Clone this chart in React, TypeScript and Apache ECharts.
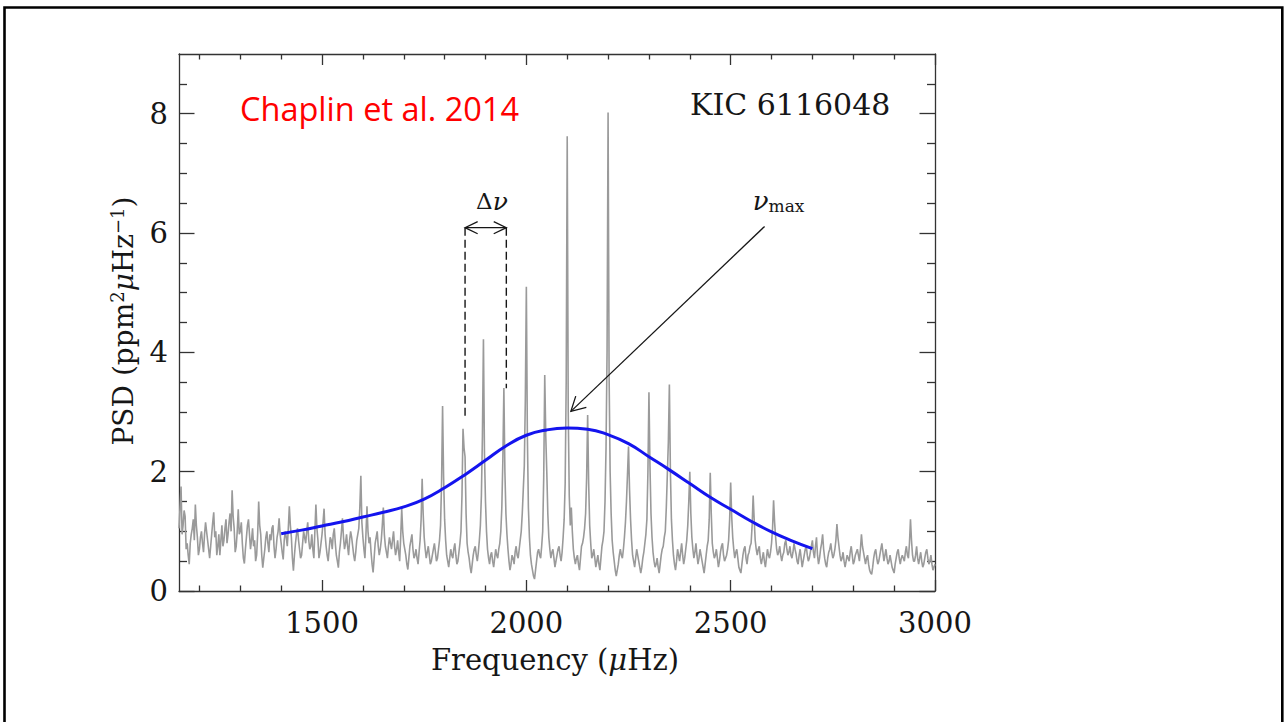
import React, { useEffect, useRef } from "react";
import * as echarts from "echarts";

// ---------- data ----------
const FREQ_START = 1150; // μHz, first sample of the spectrum
const FREQ_STEP = 2.5; // μHz, sampling step of the spectrum

// PSD (ppm^2 μHz^-1), one row per 100 μHz starting at 1150
const psdValues: number[] = [
  1.05, 1.40, 1.75, 0.95, 1.10, 1.35, 1.25, 0.70, 0.80, 0.60, 0.45, 0.80, 0.95, 1.05, 1.20, 0.85, 1.45, 1.10, 0.90, 0.60,
  0.70, 0.90, 1.00, 0.80, 0.65, 0.95, 1.15, 1.00, 0.85, 0.70, 0.55, 0.75, 0.95, 1.15, 1.32, 0.90, 1.00, 0.60, 0.75, 0.95,
  0.60, 0.85, 1.10, 0.75, 0.85, 1.05, 1.20, 0.80, 0.95, 1.15, 1.30, 1.00, 1.69, 1.25, 1.05, 0.65, 0.75, 1.00, 1.37, 0.95,
  1.00, 1.15, 0.80, 0.55, 0.46, 0.70, 0.90, 1.10, 1.20, 0.95, 0.70, 0.85, 1.05, 0.75, 0.85, 0.50, 0.60, 0.95, 1.50, 1.10,
  0.95, 0.60, 0.39, 0.55, 0.70, 0.90, 1.00, 0.80, 0.65, 0.95, 0.85, 1.05, 1.10, 0.75, 0.55, 0.70, 0.90, 1.00, 1.22, 0.95,
  0.80, 0.65, 0.53, 0.85, 1.00, 0.90, 0.75, 1.05, 1.42, 1.10, 0.90, 0.55, 0.34, 0.60, 0.80, 0.95, 1.05, 0.85, 0.70, 0.55,
  0.60, 0.80, 1.00, 0.90, 0.80, 1.00, 1.15, 0.85, 0.70, 0.75, 0.95, 0.70, 0.55, 1.00, 1.45, 1.05, 0.85, 0.55, 0.65, 0.80,
  0.95, 1.15, 1.38, 0.95, 0.75, 0.60, 0.50, 0.70, 0.90, 0.85, 0.70, 0.95, 1.05, 0.80, 0.60, 0.50, 0.39, 0.65, 0.80, 1.00,
  1.22, 0.90, 0.70, 0.80, 0.95, 0.75, 0.60, 0.85, 1.00, 0.90, 0.75, 0.60, 0.50, 0.65, 0.85, 0.95, 1.05, 1.40, 1.93, 1.15,
  0.90, 0.70, 0.55, 0.95, 1.42, 1.00, 0.80, 0.90, 0.65, 0.45, 0.31, 0.55, 0.80, 0.90, 1.00, 0.75, 0.60, 0.70, 0.85, 1.10,
  1.40, 0.95, 0.75, 0.65, 0.55, 0.75, 0.90, 0.80, 0.70, 0.85, 1.00, 0.75, 0.60, 0.70, 0.85, 0.65, 0.50, 0.90, 1.38, 1.00,
  0.80, 0.70, 0.60, 0.45, 0.36, 0.55, 0.75, 0.85, 0.95, 0.70, 0.55, 0.60, 0.70, 0.55, 0.45, 0.65, 0.85, 1.20, 1.88, 1.30,
  0.90, 0.70, 0.55, 0.65, 0.75, 0.60, 0.45, 0.50, 0.60, 0.70, 0.80, 0.65, 0.50, 0.55, 0.70, 0.85, 1.10, 1.80, 3.10, 1.90,
  1.20, 0.85, 0.60, 0.50, 0.40, 0.55, 0.70, 0.60, 0.55, 0.70, 0.80, 0.60, 0.45, 0.50, 0.65, 0.80, 1.00, 1.60, 2.72, 2.40,
  2.25, 1.30, 0.80, 0.65, 0.55, 0.40, 0.30, 0.45, 0.60, 0.70, 0.75, 0.60, 0.50, 0.65, 0.85, 1.10, 1.60, 2.60, 4.22, 2.30,
  1.50, 1.00, 0.70, 0.55, 0.45, 0.60, 0.65, 0.50, 0.40, 0.55, 0.70, 0.60, 0.55, 0.70, 0.80, 1.00, 1.40, 2.20, 3.40, 2.00,
  1.30, 0.95, 0.70, 0.50, 0.35, 0.45, 0.60, 0.55, 0.45, 0.65, 0.75, 0.60, 0.55, 0.70, 0.85, 1.00, 1.30, 1.70, 2.10, 3.20,
  5.10, 2.60, 1.40, 0.90, 0.60, 0.45, 0.35, 0.25, 0.20, 0.35, 0.50, 0.65, 0.70, 0.60, 0.55, 0.75, 1.00, 1.90, 3.62, 2.60,
  2.00, 1.30, 0.90, 0.70, 0.55, 0.65, 0.70, 0.55, 0.40, 0.50, 0.60, 0.70, 0.75, 0.60, 0.50, 0.65, 0.90, 1.20, 1.80, 3.50,
  7.62, 3.00, 1.60, 1.10, 1.40, 1.00, 0.70, 0.55, 0.45, 0.55, 0.60, 0.45, 0.35, 0.55, 0.75, 0.80, 0.90, 1.05, 1.30, 1.90,
  2.95, 1.80, 1.10, 0.80, 0.55, 0.60, 0.70, 0.55, 0.40, 0.50, 0.60, 0.45, 0.35, 0.55, 0.75, 0.85, 1.00, 1.50, 2.40, 4.00,
  8.02, 3.60, 2.00, 1.30, 0.85, 0.65, 0.50, 0.35, 0.25, 0.35, 0.45, 0.60, 0.70, 0.60, 0.55, 0.70, 0.90, 1.15, 1.50, 1.95,
  2.42, 1.70, 1.20, 0.85, 0.60, 0.50, 0.40, 0.55, 0.70, 0.60, 0.50, 0.40, 0.30, 0.40, 0.55, 0.65, 0.80, 0.95, 1.20, 2.00,
  3.33, 2.10, 1.30, 0.90, 0.65, 0.50, 0.40, 0.45, 0.55, 0.40, 0.30, 0.45, 0.60, 0.70, 0.75, 0.90, 1.00, 1.40, 1.95, 2.50,
  3.46, 2.00, 1.20, 0.85, 0.60, 0.45, 0.35, 0.50, 0.70, 0.60, 0.50, 0.65, 0.80, 0.60, 0.45, 0.55, 0.70, 0.85, 1.10, 1.50,
  2.00, 1.30, 0.90, 0.70, 0.55, 0.65, 0.80, 0.60, 0.45, 0.55, 0.70, 0.60, 0.50, 0.40, 0.30, 0.45, 0.60, 0.75, 0.85, 1.20,
  1.98, 1.30, 0.80, 0.65, 0.55, 0.60, 0.70, 0.55, 0.40, 0.50, 0.65, 0.75, 0.80, 0.60, 0.50, 0.55, 0.60, 0.70, 0.85, 1.20,
  1.82, 1.25, 0.90, 0.70, 0.55, 0.65, 0.70, 0.55, 0.40, 0.35, 0.30, 0.45, 0.60, 0.70, 0.75, 0.55, 0.45, 0.60, 0.65, 0.75,
  0.80, 1.10, 1.60, 1.20, 0.85, 0.70, 0.60, 0.70, 0.75, 0.55, 0.45, 0.55, 0.65, 0.50, 0.40, 0.55, 0.70, 0.60, 0.55, 0.65,
  0.80, 1.05, 1.52, 1.15, 0.90, 0.70, 0.60, 0.65, 0.75, 0.60, 0.50, 0.60, 0.65, 0.80, 0.85, 0.70, 0.60, 0.65, 0.75, 0.60,
  0.55, 0.65, 0.80, 0.70, 0.62, 0.50, 0.45, 0.60, 0.70, 0.55, 0.40, 0.50, 0.60, 0.70, 0.75, 0.60, 0.50, 0.55, 0.65, 0.75,
  0.85, 0.65, 0.55, 0.75, 0.90, 0.60, 0.45, 0.55, 0.70, 0.80, 0.95, 0.70, 0.55, 0.45, 0.40, 0.55, 0.65, 0.70, 0.80, 0.65,
  0.55, 0.60, 0.70, 0.85, 1.12, 0.90, 0.75, 0.60, 0.50, 0.55, 0.65, 0.50, 0.40, 0.50, 0.60, 0.55, 0.50, 0.65, 0.75, 0.60,
  0.45, 0.50, 0.60, 0.65, 0.70, 0.60, 0.50, 0.70, 0.95, 0.75, 0.65, 0.55, 0.45, 0.55, 0.60, 0.45, 0.35, 0.30, 0.28, 0.40,
  0.55, 0.65, 0.70, 0.55, 0.45, 0.50, 0.60, 0.70, 0.80, 0.65, 0.50, 0.60, 0.70, 0.55, 0.45, 0.50, 0.60, 0.50, 0.40, 0.35,
  0.30, 0.45, 0.55, 0.65, 0.70, 0.55, 0.45, 0.55, 0.60, 0.55, 0.50, 0.65, 0.75, 0.60, 0.55, 0.80, 1.20, 0.85, 0.60, 0.50,
  0.50, 0.60, 0.75, 0.55, 0.45, 0.55, 0.65, 0.50, 0.40, 0.45, 0.55, 0.65, 0.70, 0.55, 0.45, 0.50, 0.60, 0.45, 0.35, 0.40,
  0.45,
];

// smoothed envelope (blue)
const envelopeFreqs: number[] = [
  1400, 1450, 1500, 1550, 1600, 1650, 1700, 1750, 1800, 1850, 1900, 1950, 2000, 2050,
  2100, 2150, 2200, 2250, 2300, 2350, 2400, 2450, 2500, 2550, 2600, 2650, 2700,
];
const envelopeValues: number[] = [
  0.96, 1.02, 1.09, 1.16, 1.24, 1.32, 1.41, 1.54, 1.73, 1.95, 2.19, 2.43, 2.61, 2.70,
  2.73, 2.71, 2.62, 2.47, 2.25, 2.03, 1.80, 1.57, 1.37, 1.17, 0.99, 0.84, 0.71,
];

// axis ticks
const xMajorTicks = [1500, 2000, 2500, 3000];
const xMinorTicks = [1200, 1300, 1400, 1600, 1700, 1800, 1900, 2100, 2200, 2300, 2400, 2600, 2700, 2800, 2900];
const yMajorTicks = [0, 2, 4, 6, 8];
const yMinorTicks = [0.5, 1, 1.5, 2.5, 3, 3.5, 4.5, 5, 5.5, 6.5, 7, 7.5, 8.5];

// annotation anchors (data coordinates)
const deltaNuFreqs = [1850, 1951];
const deltaNuBottoms = [2.9, 3.4];
const deltaNuLevel = 6.09;
const deltaNuLabel = [1916, 6.53];
const numaxArrowFrom = [2583, 6.11];
const numaxArrowTo = [2109, 3.01];
const numaxLabel = [2554, 6.53];

const X_MIN = 1150;
const X_MAX = 3000;
const Y_MIN = 0;
const Y_MAX = 9;

const INK = "#161616";
const AXIS_COLOR = "#333333";
const SERIF = "DejaVu Serif";

function arrowHead(tip: number[], from: number[], len: number, ang: number) {
  const dx = tip[0] - from[0];
  const dy = tip[1] - from[1];
  const d = Math.hypot(dx, dy) || 1;
  const ux = dx / d;
  const uy = dy / d;
  const rot = (a: number) => [ux * Math.cos(a) - uy * Math.sin(a), ux * Math.sin(a) + uy * Math.cos(a)];
  const r1 = rot(ang);
  const r2 = rot(-ang);
  return [
    [tip[0] - len * r1[0], tip[1] - len * r1[1]],
    [tip[0], tip[1]],
    [tip[0] - len * r2[0], tip[1] - len * r2[1]],
  ];
}

export default function App() {
  const ref = useRef<HTMLDivElement>(null);

  useEffect(() => {
    if (!ref.current) return;
    const chart = echarts.init(ref.current, undefined, { renderer: "svg" });

    const psdData = psdValues.map((v, i) => [FREQ_START + i * FREQ_STEP, v]);
    const envData = envelopeFreqs.map((f, i) => [f, envelopeValues[i]]);

    const tickLine = { color: AXIS_COLOR, width: 1.3 };
    const plain = (v: number) => String(v);
    const mkX = (position: string, custom: number[], len: number, line: boolean, labels: boolean) => ({
      type: "value",
      position,
      min: X_MIN,
      max: X_MAX,
      splitLine: { show: false },
      axisLine: { show: line, onZero: false, lineStyle: tickLine },
      axisTick: { show: true, inside: true, length: len, customValues: custom, lineStyle: tickLine },
      axisLabel: labels
        ? { show: true, customValues: custom, formatter: plain, margin: 17, fontFamily: SERIF, fontSize: 29, color: INK }
        : { show: false },
    });
    const mkY = (position: string, custom: number[], len: number, line: boolean, labels: boolean) => ({
      type: "value",
      position,
      min: Y_MIN,
      max: Y_MAX,
      splitLine: { show: false },
      axisLine: { show: line, onZero: false, lineStyle: tickLine },
      axisTick: { show: true, inside: true, length: len, customValues: custom, lineStyle: tickLine },
      axisLabel: labels
        ? { show: true, customValues: custom, formatter: plain, margin: 11, fontFamily: SERIF, fontSize: 29, color: INK }
        : { show: false },
    });

    const renderAnnotations = (params: any, api: any) => {
      if (params.dataIndex !== 0) return null;
      const p = (x: number, y: number) => api.coord([x, y]);
      const children: any[] = [];
      deltaNuFreqs.forEach((f, i) => {
        const a = p(f, deltaNuLevel);
        const b = p(f, deltaNuBottoms[i]);
        children.push({
          type: "line",
          shape: { x1: a[0], y1: a[1], x2: b[0], y2: b[1] },
          style: { stroke: INK, lineWidth: 1.4, lineDash: [8, 4] },
        });
      });
      const L = p(deltaNuFreqs[0], deltaNuLevel);
      const R = p(deltaNuFreqs[1], deltaNuLevel);
      children.push({ type: "line", shape: { x1: L[0], y1: L[1], x2: R[0], y2: R[1] }, style: { stroke: INK, lineWidth: 1.3 } });
      children.push({ type: "polyline", shape: { points: arrowHead(L, R, 14, 0.45) }, style: { stroke: INK, lineWidth: 1.3, fill: "none" } });
      children.push({ type: "polyline", shape: { points: arrowHead(R, L, 14, 0.45) }, style: { stroke: INK, lineWidth: 1.3, fill: "none" } });

      const S = p(numaxArrowFrom[0], numaxArrowFrom[1]);
      const T = p(numaxArrowTo[0], numaxArrowTo[1]);
      children.push({ type: "line", shape: { x1: S[0], y1: S[1], x2: T[0], y2: T[1] }, style: { stroke: INK, lineWidth: 1.3 } });
      children.push({ type: "polyline", shape: { points: arrowHead(T, S, 16, 0.5) }, style: { stroke: INK, lineWidth: 1.3, fill: "none" } });

      const dl = p(deltaNuLabel[0], deltaNuLabel[1]);
      children.push({
        type: "text",
        x: dl[0],
        y: dl[1],
        style: {
          text: "{d|Δ}{n|ν}",
          align: "center",
          verticalAlign: "middle",
          rich: {
            d: { fontFamily: SERIF, fontSize: 23, fill: INK },
            n: { fontFamily: SERIF, fontStyle: "italic", fontSize: 25, fill: INK },
          },
        },
      });
      const nl = p(numaxLabel[0], numaxLabel[1]);
      children.push({
        type: "text",
        x: nl[0],
        y: nl[1],
        style: {
          text: "{n|ν}{s|max}",
          align: "left",
          verticalAlign: "middle",
          rich: {
            n: { fontFamily: SERIF, fontStyle: "italic", fontSize: 26, fill: INK },
            s: { fontFamily: SERIF, fontSize: 17, fill: INK, verticalAlign: "bottom", padding: [10, 0, 0, 0] },
          },
        },
      });
      return { type: "group", children };
    };

    const option: any = {
      animation: false,
      backgroundColor: "#ffffff",
      grid: { left: 179, top: 54, width: 756, height: 537 },
      xAxis: [
        mkX("bottom", xMajorTicks, 11, true, true),
        mkX("bottom", xMinorTicks, 5.5, false, false),
        mkX("top", xMajorTicks, 11, true, false),
        mkX("top", xMinorTicks, 5.5, false, false),
      ],
      yAxis: [
        mkY("left", yMajorTicks, 15.5, true, true),
        mkY("left", yMinorTicks, 8, false, false),
        mkY("right", yMajorTicks, 15.5, true, false),
        mkY("right", yMinorTicks, 8, false, false),
      ],
      series: [
        {
          type: "line",
          name: "PSD",
          xAxisIndex: 0,
          yAxisIndex: 0,
          data: psdData,
          symbol: "none",
          showSymbol: false,
          lineStyle: { color: "#9a9a9a", width: 1.6 },
          z: 2,
        },
        {
          type: "line",
          name: "Envelope",
          xAxisIndex: 0,
          yAxisIndex: 0,
          data: envData,
          smooth: true,
          symbol: "none",
          showSymbol: false,
          lineStyle: { color: "#1414ee", width: 3 },
          z: 3,
        },
        {
          type: "custom",
          xAxisIndex: 0,
          yAxisIndex: 0,
          data: [[deltaNuLabel[0], deltaNuLabel[1]]],
          renderItem: renderAnnotations,
          silent: true,
          z: 4,
        },
      ],
      graphic: [
        {
          type: "rect",
          shape: { x: 4.5, y: 7.5, width: 1277.8, height: 760 },
          style: { fill: "none", stroke: "#000000", lineWidth: 2.6 },
          silent: true,
        },
        {
          type: "text",
          x: 240,
          y: 108,
          style: {
            text: "Chaplin et al. 2014",
            fontFamily: "Open Sans",
            fontSize: 32.5,
            fill: "#ff0000",
            align: "left",
            verticalAlign: "middle",
          },
        },
        {
          type: "text",
          x: 690,
          y: 104,
          style: {
            text: "KIC 6116048",
            fontFamily: SERIF,
            fontSize: 30,
            fill: INK,
            align: "left",
            verticalAlign: "middle",
          },
        },
        {
          type: "text",
          x: 555,
          y: 660,
          style: {
            text: "{a|Frequency (}{i|μ}{a|Hz)}",
            align: "center",
            verticalAlign: "middle",
            rich: {
              a: { fontFamily: SERIF, fontSize: 29, fill: INK },
              i: { fontFamily: SERIF, fontStyle: "italic", fontSize: 29, fill: INK },
            },
          },
        },
        {
          type: "text",
          x: 123,
          y: 321,
          rotation: Math.PI / 2,
          style: {
            text: "{a|PSD (ppm}{s|2}{i|μ}{a|Hz}{s|−1}{a|)}",
            align: "center",
            verticalAlign: "middle",
            rich: {
              a: { fontFamily: SERIF, fontSize: 28, fill: INK },
              i: { fontFamily: SERIF, fontStyle: "italic", fontSize: 28, fill: INK },
              s: { fontFamily: SERIF, fontSize: 18, fill: INK, verticalAlign: "top", padding: [0, 0, 12, 0] },
            },
          },
        },
      ],
    };

    chart.setOption(option);
    return () => chart.dispose();
  }, []);

  return (
    <div
      ref={ref}
      style={{ position: "fixed", left: 0, top: 0, width: 1288, height: 722, background: "#fff" }}
    />
  );
}
